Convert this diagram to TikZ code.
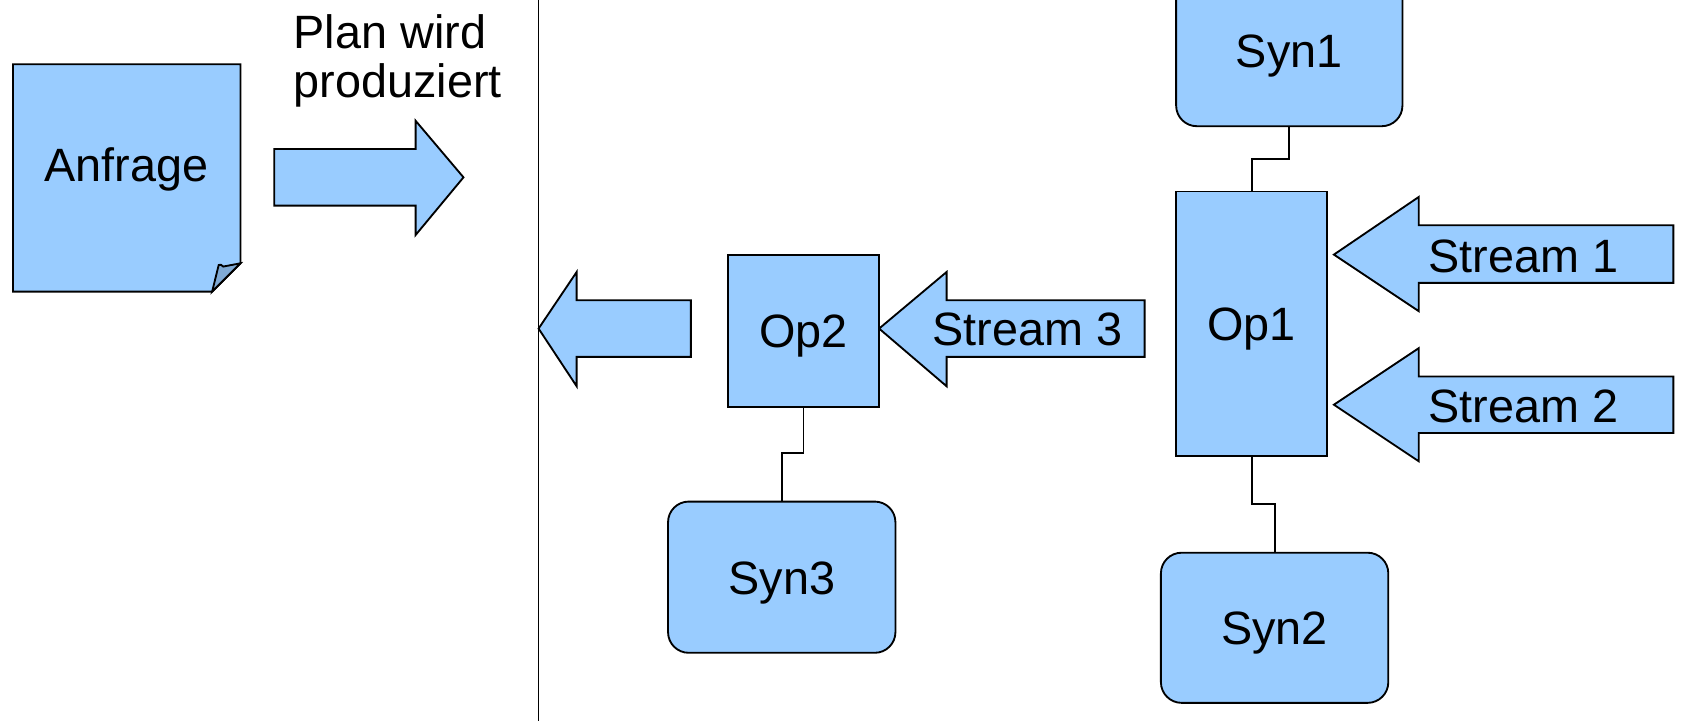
\documentclass[tikz,border=0pt]{standalone}
\usepackage{fontspec}
\setmainfont{Liberation Sans}
\definecolor{boxblue}{HTML}{99CCFF}
\definecolor{foldblue}{HTML}{80AAD5}
\begin{document}
\begin{tikzpicture}[x=1pt,y=-1pt,
  every node/.style={font=\fontsize{43}{45}\selectfont, inner sep=0pt, outer sep=0pt},
  ln/.style={line width=1.7pt, draw=black},
  shp/.style={ln, fill=boxblue},
  bx/.style={shp, rectangle, text height=31pt, text depth=0pt},
  rbx/.style={bx, rounded corners=19pt}]
\useasboundingbox (0,0) rectangle (1568,663);
\clip (0,0) rectangle (1568,663);

% Anfrage (note with folded corner)
\draw[shp] (12,59) -- (221,59) -- (221,242) -- (195,268) -- (12,268) -- cycle;
\draw[ln, fill=foldblue] (195,268) -- (201,243.6) .. controls (203,243) .. (205.2,245) -- (221,242) -- cycle;
\node[anchor=base] (anfrage) at (116,167) {Anfrage};

% plan arrow and label
\draw[shp] (252,137) -- (382,137) -- (382,111) -- (426,163) -- (382,216) -- (382,189) -- (252,189) -- cycle;
\node[anchor=north west, align=left] (plan) at (270,13) {Plan wird\\produziert};

% separator
\draw[ln] (495,0) -- (495,663);

% output arrow
\draw[shp] (635,276) -- (530,276) -- (530,250) -- (495,302) -- (530,355) -- (530,328) -- (635,328) -- cycle;

% Stream 3
\draw[shp] (1052,276) -- (870,276) -- (870,250) -- (808,302) -- (870,355) -- (870,328) -- (1052,328) -- cycle;
\node[anchor=base west] (s3) at (857,318) {Stream 3};

% Stream 1 and 2
\draw[shp] (1538,207) -- (1304,207) -- (1304,181) -- (1226,234) -- (1304,286) -- (1304,260) -- (1538,260) -- cycle;
\node[anchor=base west] (s1) at (1313,250) {Stream 1};
\draw[shp] (1538,346) -- (1304,346) -- (1304,320) -- (1226,372) -- (1304,424) -- (1304,398) -- (1538,398) -- cycle;
\node[anchor=base west] (s2) at (1313,388) {Stream 2};

% operators and synopses
\node[bx, minimum width=139pt, minimum height=140pt] (op2) at (738.5,304) {Op2};
\node[bx, minimum width=139pt, minimum height=243pt] (op1) at (1150.5,297.5) {Op1};
\node[rbx, minimum width=209pt, minimum height=139pt] (syn3) at (718.5,530.5) {Syn3};
\node[rbx, minimum width=209pt, minimum height=138pt] (syn2) at (1171.5,577) {Syn2};
\node[rbx, minimum width=208pt, minimum height=138pt] (syn1) at (1185,47) {Syn1};

% connectors
\draw[ln] (syn1.south) -- ++(0,30) -| (op1.north);
\draw[ln] (op2.south) -- ++(0,42) -| (syn3.north);
\draw[ln] (op1.south) -- ++(0,44) -| (syn2.north);
\end{tikzpicture}
\end{document}
